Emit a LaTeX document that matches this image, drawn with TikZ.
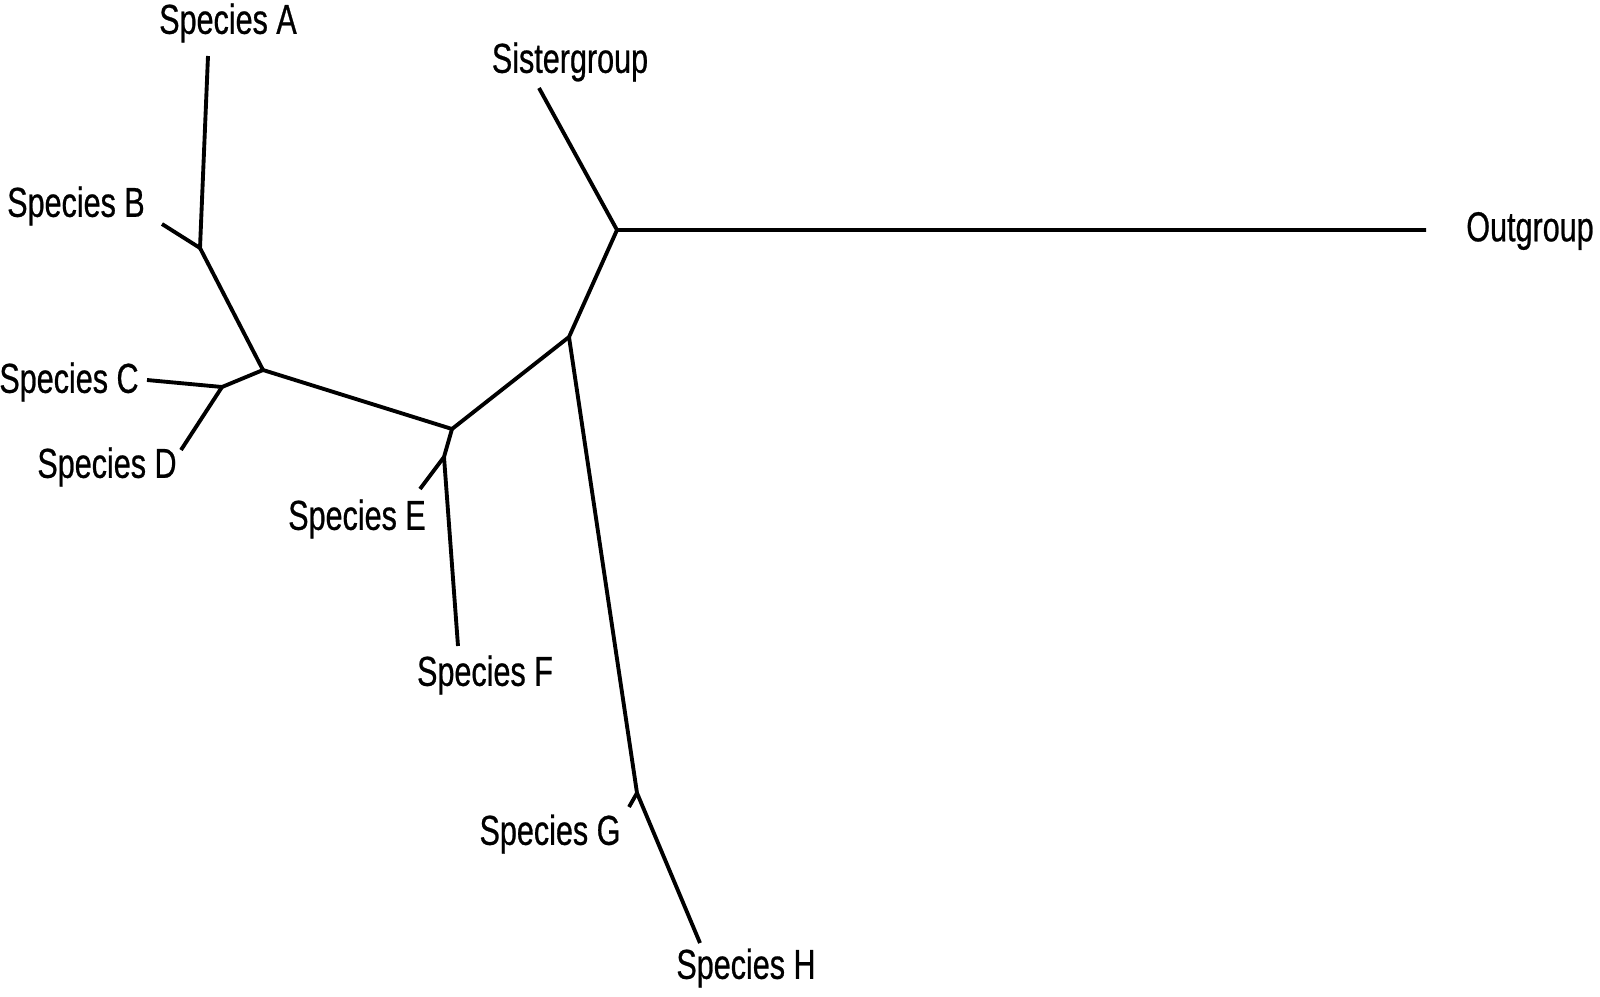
\documentclass[tikz,border=0pt]{standalone}
\usepackage{fontspec}
\setmainfont[FakeStretch=0.73,FakeBold=0.6]{Liberation Sans}
\usetikzlibrary{positioning,calc}

\tikzset{
  branch/.style={line width=1.1pt, black},
  taxon/.style={font=\fontsize{11.9}{14}\selectfont, inner sep=0pt}
}

\begin{document}
\begin{tikzpicture}[x=0.01cm,y=-0.01cm]
\useasboundingbox (0,0) rectangle (1600,997);

% Internal nodes
\coordinate (root) at (617,230);
\coordinate (nGH) at (569,337);
\coordinate (nGHs) at (637,793);
\coordinate (nEF) at (452,429);
\coordinate (nEFs) at (444,457);
\coordinate (nABCD) at (263,370);
\coordinate (nAB) at (200,248);
\coordinate (nCD) at (222,387);

% Tips
\coordinate (tipA) at (208,56);
\coordinate (tipB) at (162,224);
\coordinate (tipC) at (147,380);
\coordinate (tipD) at (181,450);
\coordinate (tipE) at (420,489);
\coordinate (tipF) at (458,646);
\coordinate (tipG) at (629,807);
\coordinate (tipH) at (700,943);
\coordinate (tipSis) at (539,88);
\coordinate (tipOut) at (1426,230);

% Branches
\draw[branch] (tipSis) -- (root) -- (tipOut);
\draw[branch] (root) -- (nGH) -- (nEF) -- (nABCD);
\draw[branch] (nGH) -- (nGHs) -- (tipH);
\draw[branch] (nGHs) -- (tipG);
\draw[branch] (nEF) -- (nEFs) -- (tipF);
\draw[branch] (nEFs) -- (tipE);
\draw[branch] (nABCD) -- (nAB) -- (tipA);
\draw[branch] (nAB) -- (tipB);
\draw[branch] (nABCD) -- (nCD) -- (tipC);
\draw[branch] (nCD) -- (tipD);

% Labels
\node[taxon] (labA) at (228,23) {Species A};
\node[taxon] (labB) at (76,206) {Species B};
\node[taxon] (labC) at (69,382) {Species C};
\node[taxon] (labD) at (107,467) {Species D};
\node[taxon] (labE) at (357,519) {Species E};
\node[taxon] (labF) at (485,675) {Species F};
\node[taxon] (labG) at (550,834) {Species G};
\node[taxon] (labH) at (746,968) {Species H};
\node[taxon] (labSis) at (570,62) {Sistergroup};
\node[taxon] (labOut) at (1530,231) {Outgroup};
\end{tikzpicture}
\end{document}
